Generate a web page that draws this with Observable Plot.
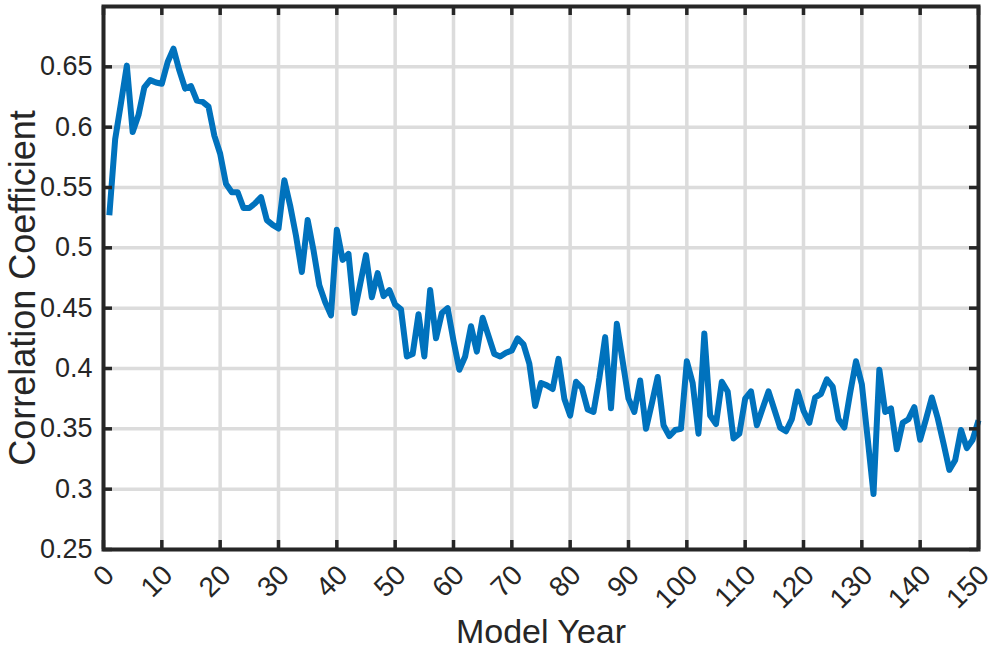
<!DOCTYPE html>
<html>
<head>
<meta charset="utf-8">
<script src="https://cdn.jsdelivr.net/npm/d3@7"></script>
<script src="https://cdn.jsdelivr.net/npm/@observablehq/plot@0.6"></script>
<style>
  html, body { margin: 0; padding: 0; background: #ffffff; }
  #chart { width: 996px; height: 652px; }
</style>
</head>
<body>
<div id="chart"></div>
<script>
const years = d3.range(1, 151);
const correlation = [
  0.527, 0.590, 0.620, 0.651, 0.596, 0.610, 0.633, 0.639, 0.637, 0.636,
  0.654, 0.665, 0.647, 0.632, 0.634, 0.622, 0.621, 0.617, 0.593, 0.578,
  0.553, 0.546, 0.546, 0.533, 0.533, 0.537, 0.542, 0.523, 0.519, 0.516,
  0.556, 0.535, 0.510, 0.480, 0.523, 0.498, 0.469, 0.455, 0.444, 0.515,
  0.490, 0.495, 0.446, 0.470, 0.494, 0.459, 0.479, 0.460, 0.465, 0.453,
  0.449, 0.410, 0.412, 0.445, 0.410, 0.465, 0.425, 0.446, 0.450, 0.423,
  0.399, 0.410, 0.435, 0.414, 0.442, 0.427, 0.412, 0.410, 0.413, 0.415,
  0.425, 0.420, 0.404, 0.369, 0.388, 0.386, 0.383, 0.408, 0.375, 0.361,
  0.389, 0.384, 0.366, 0.364, 0.392, 0.426, 0.367, 0.437, 0.406, 0.375,
  0.364, 0.390, 0.350, 0.371, 0.393, 0.353, 0.344, 0.349, 0.350, 0.406,
  0.388, 0.346, 0.429, 0.361, 0.354, 0.389, 0.381, 0.342, 0.346, 0.375,
  0.381, 0.353, 0.367, 0.381, 0.366, 0.351, 0.348, 0.358, 0.381, 0.365,
  0.355, 0.376, 0.379, 0.391, 0.385, 0.358, 0.351, 0.380, 0.406, 0.387,
  0.342, 0.296, 0.399, 0.364, 0.367, 0.333, 0.355, 0.358, 0.368, 0.341,
  0.358, 0.376, 0.359, 0.338, 0.316, 0.324, 0.349, 0.334, 0.341, 0.357
];
const xTicks = [0, 10, 20, 30, 40, 50, 60, 70, 80, 90, 100, 110, 120, 130, 140, 150];
const yTicks = [0.25, 0.3, 0.35, 0.4, 0.45, 0.5, 0.55, 0.6, 0.65];
const xLabel = "Model Year";
const yLabel = "Correlation Coefficient";

const rows = years.map((yr, i) => ({year: yr, value: correlation[i]}));

const W = 996, H = 652;
const mL = 103, mR = 18, mT = 6, mB = 103;
const innerW = W - mL - mR, innerH = H - mT - mB;
const ink = "#262626";
const font = "Helvetica, 'Liberation Sans', Arial, sans-serif";

const chart = Plot.plot({
  width: W,
  height: H,
  marginLeft: mL,
  marginRight: mR,
  marginTop: mT,
  marginBottom: mB,
  style: {background: "#ffffff", fontFamily: font, color: ink},
  x: {domain: [0, 150], axis: null},
  y: {domain: [0.25, 0.70], axis: null},
  marks: [
    Plot.gridX(xTicks, {stroke: "#dcdcdc", strokeOpacity: 1, strokeWidth: 3.5}),
    Plot.gridY(yTicks, {stroke: "#dcdcdc", strokeOpacity: 1, strokeWidth: 3.5}),
    Plot.line(rows, {x: "year", y: "value", stroke: "#0072BD", strokeWidth: 6, strokeLinejoin: "round", strokeLinecap: "butt"}),
    Plot.tickX(xTicks, {x: d => d, insetTop: innerH - 9, stroke: ink, strokeWidth: 3.5}),
    Plot.tickX(xTicks, {x: d => d, insetBottom: innerH - 9, stroke: ink, strokeWidth: 3.5}),
    Plot.tickY(yTicks, {y: d => d, insetRight: innerW - 9, stroke: ink, strokeWidth: 3.5}),
    Plot.tickY(yTicks, {y: d => d, insetLeft: innerW - 9, stroke: ink, strokeWidth: 3.5}),
    Plot.frame({stroke: ink, strokeWidth: 4}),
    Plot.text(yTicks, {y: d => d, text: d => String(d), frameAnchor: "left", textAnchor: "end", lineAnchor: "middle", dx: -11, fontSize: 27, fill: ink}),
    Plot.text(xTicks, {x: d => d, text: d => String(d), frameAnchor: "bottom", textAnchor: "end", lineAnchor: "middle", rotate: -45, dx: 6, dy: 21, fontSize: 28, fill: ink}),
    Plot.text([xLabel], {text: d => d, frameAnchor: "bottom", textAnchor: "middle", lineAnchor: "middle", dy: 83, fontSize: 34, fill: ink}),
    Plot.text([yLabel], {text: d => d, frameAnchor: "left", textAnchor: "middle", lineAnchor: "middle", rotate: -90, dx: -80, dy: 10, fontSize: 36, fill: ink})
  ]
});
document.getElementById("chart").appendChild(chart);
</script>
</body>
</html>
